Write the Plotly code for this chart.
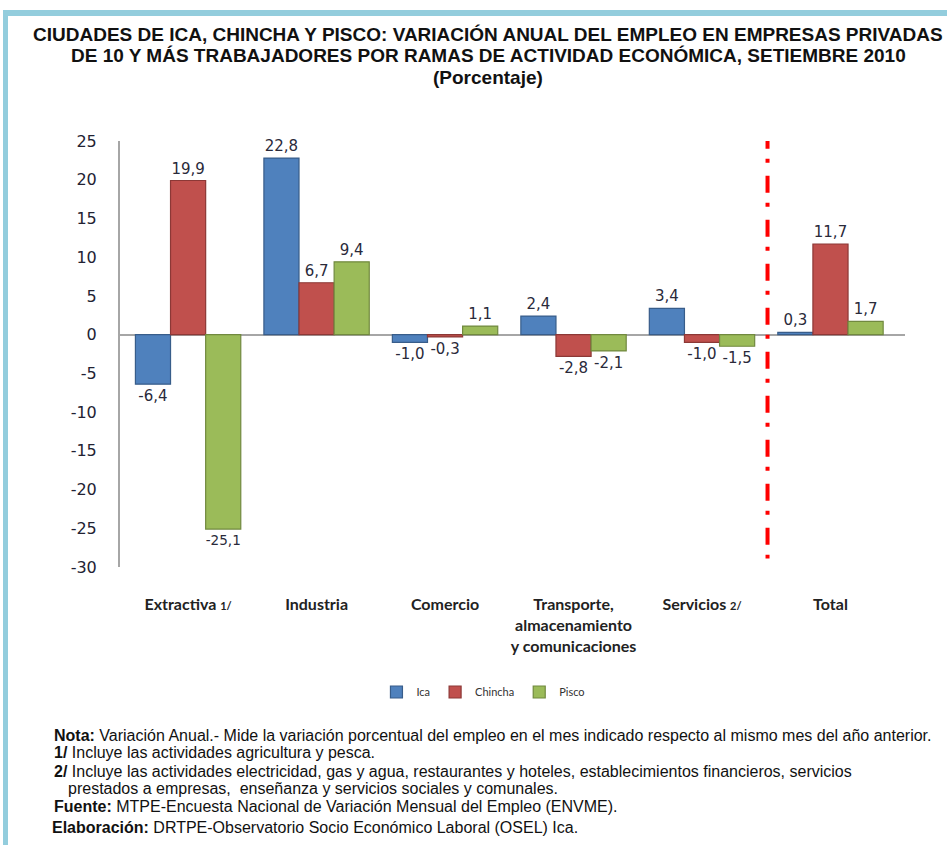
import plotly.graph_objects as go

# ---------------- data ----------------
categories = ["Extractiva", "Industria", "Comercio", "Transporte", "Servicios", "Total"]
category_labels = [
    "Extractiva <span style='font-size:11px'>1/</span>",
    "Industria",
    "Comercio",
    "Transporte,<br>almacenamiento<br>y comunicaciones",
    "Servicios <span style='font-size:11px'>2/</span>",
    "Total",
]
ica = [-6.4, 22.8, -1.0, 2.4, 3.4, 0.3]
chincha = [19.9, 6.7, -0.3, -2.8, -1.0, 11.7]
pisco = [-25.1, 9.4, 1.1, -2.1, -1.5, 1.7]
series_names = ["Ica", "Chincha", "Pisco"]
y_ticks = [-30, -25, -20, -15, -10, -5, 0, 5, 10, 15, 20, 25]

title_lines = [
    "CIUDADES DE ICA, CHINCHA Y PISCO: VARIACIÓN ANUAL DEL EMPLEO EN EMPRESAS PRIVADAS",
    "DE 10 Y MÁS TRABAJADORES POR RAMAS DE ACTIVIDAD ECONÓMICA, SETIEMBRE 2010",
    "(Porcentaje)",
]

notes = [
    "<b>Nota:</b> Variación Anual.- Mide la variación porcentual del empleo en el mes indicado respecto al mismo mes del año anterior.",
    "<b>1/</b> Incluye las actividades agricultura y pesca.",
    "<b>2/</b> Incluye las actividades electricidad, gas y agua, restaurantes y hoteles, establecimientos financieros, servicios",
    "prestados a empresas,  enseñanza y servicios sociales y comunales.",
    "<b>Fuente:</b> MTPE-Encuesta Nacional de Variación Mensual del Empleo (ENVME).",
    "<b>Elaboración:</b> DRTPE-Observatorio Socio Económico Laboral (OSEL) Ica.",
]

# ---------------- style ----------------
W, H = 947, 845
ML, MR, MT, MB = 120, 42, 141, 278
PW, PH = W - ML - MR, H - MT - MB

def px_x(px):
    return (px - ML) / PW

def px_y(py):
    return (H - MB - py) / PH

fills = ["#4F81BD", "#C0504D", "#9BBB59"]
edges = ["#385D8A", "#8C3836", "#71893F"]

def fmt(v):
    return f"{v:.1f}".replace(".", ",")

fig = go.Figure()
x_idx = list(range(len(categories)))
for name, vals, fc, ec in zip(series_names, [ica, chincha, pisco], fills, edges):
    fig.add_trace(go.Bar(
        x=x_idx, y=vals, name=name,
        marker=dict(color=fc, line=dict(color=ec, width=1.2)),
        text=[fmt(v) for v in vals], textposition="outside",
        textfont=dict(family="DejaVu Sans", size=15, color="#2a2a3a"),
        cliponaxis=False,
    ))

fig.update_layout(
    width=W, height=H,
    margin=dict(l=ML, r=MR, t=MT, b=MB),
    paper_bgcolor="white", plot_bgcolor="white",
    barmode="group", bargap=0.18, bargroupgap=0.0,
    showlegend=True,
    legend=dict(orientation="h", x=0.463, xanchor="center", y=px_y(692), yanchor="middle",
                font=dict(family="Lato", size=11, color="#333333"),
                itemwidth=30, traceorder="normal"),
)

fig.update_xaxes(
    range=[-0.53, 5.58], tickvals=x_idx, ticktext=category_labels,
    showline=False, showgrid=False, zeroline=False, ticks="",
    ticklabelstandoff=26,
    tickfont=dict(family="Lato", size=16, color="#222222", weight="bold"),
)
fig.update_yaxes(
    range=[-30, 25], tickvals=y_ticks, ticktext=[str(v) for v in y_ticks],
    showline=True, linecolor="#a6a6a6", linewidth=2,
    showgrid=False, zeroline=True, zerolinecolor="#a6a6a6", zerolinewidth=2,
    ticks="", ticklabelstandoff=18,
    tickfont=dict(family="DejaVu Sans", size=16, color="#222233"),
)

# separator between sectors and total
fig.add_shape(type="line", xref="x", yref="y", x0=4.51, x1=4.51, y0=26.2, y1=-28.9,
              line=dict(color="#FF0000", width=4, dash="17px,10px,4px,13px"))

# frame (light blue) on left and top
fig.add_shape(type="rect", xref="paper", yref="paper",
              x0=px_x(3), x1=px_x(8), y0=px_y(H), y1=px_y(10),
              line=dict(width=0), fillcolor="#93CDDD", layer="below")
fig.add_shape(type="rect", xref="paper", yref="paper",
              x0=px_x(3), x1=px_x(W + 5), y0=px_y(16), y1=px_y(10),
              line=dict(width=0), fillcolor="#93CDDD", layer="below")

# title lines
for txt, ty in zip(title_lines, [35, 56, 77]):
    fig.add_annotation(text=f"<b>{txt}</b>", xref="paper", yref="paper",
                       x=px_x(488), y=px_y(ty), xanchor="center", yanchor="middle",
                       showarrow=False,
                       font=dict(family="Liberation Sans", size=19, color="#111111"))

note_pos = [(52, 735), (52, 752), (52, 771), (66, 788), (52, 806), (50, 828)]
for txt, (nx, ny) in zip(notes, note_pos):
    fig.add_annotation(text=txt, xref="paper", yref="paper", x=px_x(nx), y=px_y(ny),
                       xanchor="left", yanchor="middle", showarrow=False, align="left",
                       font=dict(family="Liberation Sans", size=16, color="#111111"))

fig.write_html("out.html", config={"displayModeBar": False},
               post_script="document.body.style.margin='0px';")
